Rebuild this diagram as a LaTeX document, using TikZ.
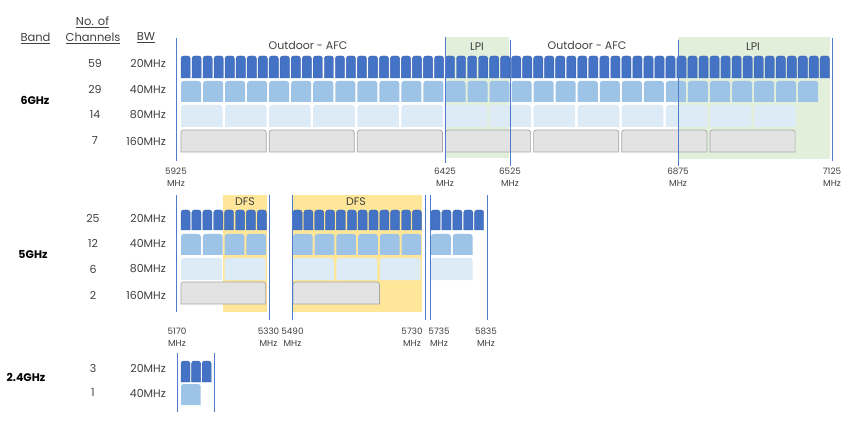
\documentclass[tikz,border=0pt]{standalone}
\usepackage{fontspec}
\setmainfont{Poppins}
\definecolor{cDark}{HTML}{4472C4}
\definecolor{cDarkLine}{HTML}{3B66B3}
\definecolor{cMid}{HTML}{9DC3E6}
\definecolor{cLight}{HTML}{DDEBF7}
\definecolor{cGray}{HTML}{E3E3E3}
\definecolor{cGrayLine}{HTML}{A6A6A6}
\definecolor{cGreen}{HTML}{E2EFDA}
\definecolor{cYellow}{HTML}{FFE699}
\definecolor{cLine}{HTML}{4F7BCB}
\definecolor{cText}{HTML}{404040}
\newcommand\chanrow[7]{%
  \foreach \i in {1,...,#3}{%
    \pgfmathsetmacro\xa{#1+(\i-1)*#2}%
    \pgfmathsetmacro\xb{\xa+#2-#4}%
    \path[#7] (\xa,#6) [rounded corners=2.6pt] -- (\xa,#5) -- (\xb,#5) [sharp corners] -- (\xb,#6) -- cycle;
  }%
}
\begin{document}
\begin{tikzpicture}[x=1pt,y=-1pt,
  every node/.style={text=cText, inner sep=0pt},
  lbl/.style={font=\fontsize{11}{13}\selectfont},
  hd/.style={font=\fontsize{11.5}{13}\selectfont},
  band/.style={font=\fontsize{11}{13}\selectfont\bfseries, text=black},
  freq/.style={font=\fontsize{8.8}{12}\selectfont, align=center},
  region/.style={font=\fontsize{11}{13}\selectfont},
  c20/.style={fill=cDark, draw=cDarkLine, line width=0.4pt},
  c40/.style={fill=cMid},
  c80/.style={fill=cLight},
  c160/.style={fill=cGray, draw=cGrayLine, line width=0.7pt},
  vline/.style={draw=cLine, line width=0.8pt}]
\useasboundingbox (0,0) rectangle (856,430);
\fill[white] (0,0) rectangle (856,430);

% ---------- header ----------
\node[hd] (hband) at (35.5,38) {\underline{Band}};
\node[hd] (hno) at (92.5,22) {\underline{No. of}};
\node[hd] (hch) at (93,38) {\underline{Channels}};
\node[hd] (hbw) at (146,38) {\underline{BW}};

% ---------- 6 GHz ----------
\fill[cGreen] (445,37) rectangle (509,158);
\fill[cGreen] (678,37) rectangle (830,159);
\node[region] (afc1) at (308,45) {Outdoor - AFC};
\node[region] (afc2) at (587,45) {Outdoor - AFC};
\node[region] (lpi1) at (477,47) {LPI};
\node[region] (lpi2) at (753,47) {LPI};

\chanrow{181}{11.02}{59}{1.8}{56}{78}{c20}
\chanrow{181}{22.04}{29}{2}{81}{102}{c40}
\chanrow{181}{44.08}{14}{2.5}{105}{127}{c80}
\chanrow{181}{88.16}{7}{3}{130}{152}{c160}

\coordinate (l5925t) at (176,38);  \coordinate (l5925b) at (176,161);
\coordinate (l6425t) at (445,37);  \coordinate (l6425b) at (445,163);
\coordinate (l6525t) at (510,40);  \coordinate (l6525b) at (510,166);
\coordinate (l6875t) at (678,40);  \coordinate (l6875b) at (678,166);
\coordinate (l7125t) at (832,38);  \coordinate (l7125b) at (832,161);
\draw[vline] (l5925t) -- (l5925b);
\draw[vline] (l6425t) -- (l6425b);
\draw[vline] (l6525t) -- (l6525b);
\draw[vline] (l6875t) -- (l6875b);
\draw[vline] (l7125t) -- (l7125b);

\node[freq] (f5925) at (176,177) {5925\\MHz};
\node[freq] (f6425) at (445,177) {6425\\MHz};
\node[freq] (f6525) at (510,177) {6525\\MHz};
\node[freq] (f6875) at (678,177) {6875\\MHz};
\node[freq] (f7125) at (832,177) {7125\\MHz};

\node[band] (b6) at (35,100) {6GHz};
\node[lbl] (n59) at (95,63) {59};
\node[lbl] (n29) at (95,89) {29};
\node[lbl] (n14) at (95,115) {14};
\node[lbl] (n7) at (95,141) {7};
\node[lbl,anchor=east] (w20a) at (166,63) {20MHz};
\node[lbl,anchor=east] (w40a) at (166,89) {40MHz};
\node[lbl,anchor=east] (w80a) at (166,115) {80MHz};
\node[lbl,anchor=east] (w160a) at (166,141) {160MHz};

% ---------- 5 GHz ----------
\fill[cYellow] (223,195) rectangle (267,312);
\fill[cYellow] (293,195) rectangle (422,312);
\node[region] (dfs1) at (245,202) {DFS};
\node[region] (dfs2) at (356,202) {DFS};

\chanrow{181}{10.9}{8}{1.8}{210}{230}{c20}
\chanrow{181}{21.8}{4}{2}{234}{255}{c40}
\chanrow{181}{43.6}{2}{2.5}{258}{280}{c80}
\chanrow{181}{87.2}{1}{2.5}{282}{304}{c160}

\chanrow{293}{10.85}{12}{1.8}{210}{230}{c20}
\chanrow{293}{21.7}{6}{2}{234}{255}{c40}
\chanrow{293}{43.4}{3}{2.5}{258}{280}{c80}
\chanrow{293}{88}{1}{1.5}{282}{304}{c160}

\chanrow{431}{10.9}{5}{1.8}{210}{230}{c20}
\chanrow{431}{21.8}{2}{2}{234}{255}{c40}
\chanrow{431}{43}{1}{1.5}{258}{280}{c80}

\coordinate (l5170t) at (176,195); \coordinate (l5170b) at (176,312);
\coordinate (l5330t) at (269,195); \coordinate (l5330b) at (269,320);
\coordinate (l5490t) at (292,195); \coordinate (l5490b) at (292,320);
\coordinate (l5730t) at (425,195); \coordinate (l5730b) at (425,320);
\coordinate (l5735t) at (430,195); \coordinate (l5735b) at (430,320);
\coordinate (l5835t) at (487,195); \coordinate (l5835b) at (487,320);
\draw[vline] (l5170t) -- (l5170b);
\draw[vline] (l5330t) -- (l5330b);
\draw[vline] (l5490t) -- (l5490b);
\draw[vline] (l5730t) -- (l5730b);
\draw[vline] (l5735t) -- (l5735b);
\draw[vline] (l5835t) -- (l5835b);

\node[freq] (f5170) at (177,337.5) {5170\\MHz};
\node[freq] (f5330) at (268.5,337.5) {5330\\MHz};
\node[freq] (f5490) at (292.5,337.5) {5490\\MHz};
\node[freq] (f5730) at (412,337.5) {5730\\MHz};
\node[freq] (f5735) at (439,337.5) {5735\\MHz};
\node[freq] (f5835) at (486,337.5) {5835\\MHz};

\node[band] (b5) at (33,255) {5GHz};
\node[lbl] (n25) at (93,218) {25};
\node[lbl] (n12) at (93,243) {12};
\node[lbl] (n6) at (93,269) {6};
\node[lbl] (n2) at (93,295) {2};
\node[lbl,anchor=east] (w20b) at (166,218) {20MHz};
\node[lbl,anchor=east] (w40b) at (166,243) {40MHz};
\node[lbl,anchor=east] (w80b) at (166,269) {80MHz};
\node[lbl,anchor=east] (w160b) at (166,295) {160MHz};

% ---------- 2.4 GHz ----------
\chanrow{181}{10.6}{3}{1.6}{361}{382}{c20}
\chanrow{181}{21.2}{1}{1.5}{384}{405}{c40}
\coordinate (l24at) at (177,353); \coordinate (l24ab) at (177,412);
\coordinate (l24bt) at (214,353); \coordinate (l24bb) at (214,412);
\draw[vline] (l24at) -- (l24ab);
\draw[vline] (l24bt) -- (l24bb);

\node[band] (b24) at (26,377) {2.4GHz};
\node[lbl] (n3) at (93,368) {3};
\node[lbl] (n1) at (93,393) {1};
\node[lbl,anchor=east] (w20c) at (166,368) {20MHz};
\node[lbl,anchor=east] (w40c) at (166,393) {40MHz};
\end{tikzpicture}
\end{document}
